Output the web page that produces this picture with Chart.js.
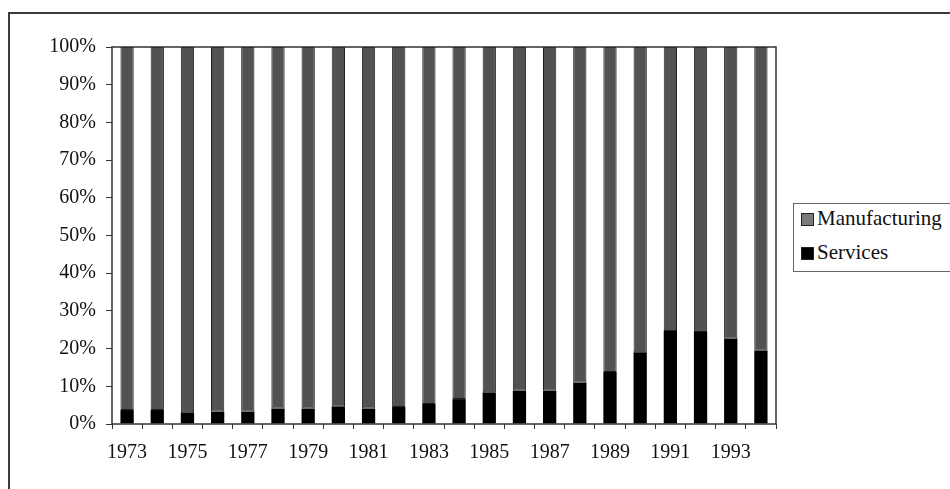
<!DOCTYPE html>
<html>
<head>
<meta charset="utf-8">
<script src="https://cdn.jsdelivr.net/npm/chart.js@4/dist/chart.umd.min.js"></script>
<style>
  html, body { margin: 0; padding: 0; background: #fff; overflow: hidden; }
  #wrap { position: relative; width: 950px; height: 489px; }
  #frame { position: absolute; left: 8px; top: 12px; width: 1000px; height: 600px; border: 2px solid #3a3a3a; box-sizing: border-box; }
  canvas { position: absolute; left: 0; top: 0; }
  #legend { position: absolute; left: 793px; top: 203px; width: 200px; height: 69px; border: 1px solid #666; box-sizing: border-box; background: #fff;
            font-family: "Liberation Serif", "Times New Roman", serif; font-size: 21px; color: #111; }
  .item { position: absolute; left: 7px; height: 24px; line-height: 24px; white-space: nowrap; }
  .sw { display: inline-block; width: 11px; height: 11px; border: 1px solid #222; margin-right: 3px; vertical-align: -1px; }
</style>
</head>
<body>
<div id="wrap">
  <div id="frame"></div>
  <canvas id="c" width="950" height="489"></canvas>
  <div id="legend"></div>
</div>
<script>
const years = ["1973","1974","1975","1976","1977","1978","1979","1980","1981","1982","1983",
               "1984","1985","1986","1987","1988","1989","1990","1991","1992","1993","1994"];
const services = [3.7,3.7,3.1,3.3,3.3,4.1,4.1,4.6,4.1,4.5,5.3,6.6,8.4,8.8,8.8,11.0,13.8,19.0,24.7,24.4,22.7,19.4];
const manufacturing = [96.3,96.3,96.9,96.7,96.7,95.9,95.9,95.4,95.9,95.5,94.7,93.4,91.6,91.2,91.2,89.0,86.2,81.0,75.3,75.6,77.3,80.6];
const seriesNames = ["Services", "Manufacturing"];
const seriesColors = ["#000000", "#525252"];
const legendSwatchColors = ["#000000", "#7a7a7a"];

const FONT = "'Liberation Serif', 'Times New Roman', serif";

const framePlugin = {
  id: 'frame',
  afterDraw(chart) {
    const a = chart.chartArea, ctx = chart.ctx;
    ctx.save();
    ctx.strokeStyle = '#333';
    ctx.lineWidth = 1.5;
    ctx.strokeRect(a.left, a.top, a.right - a.left, a.bottom - a.top);
    ctx.restore();
  }
};

new Chart(document.getElementById('c'), {
  type: 'bar',
  data: {
    labels: years,
    datasets: [
      { label: seriesNames[0], data: services, backgroundColor: seriesColors[0], borderColor: '#000', borderWidth: 0 },
      { label: seriesNames[1], data: manufacturing, backgroundColor: seriesColors[1], borderColor: '#1e1e1e', borderWidth: 1 }
    ]
  },
  options: {
    responsive: false,
    animation: false,
    devicePixelRatio: 1,
    layout: { padding: { top: 47, right: 174, left: 0, bottom: 0 } },
    datasets: { bar: { barPercentage: 0.44, categoryPercentage: 1.0, borderSkipped: false } },
    plugins: { legend: { display: false }, tooltip: { enabled: false } },
    scales: {
      x: {
        stacked: true,
        offset: true,
        border: { display: false },
        grid: { display: true, offset: true, drawOnChartArea: false, drawTicks: true, tickLength: 5, color: '#333', lineWidth: 1 },
        ticks: {
          autoSkip: false, maxRotation: 0, minRotation: 0, padding: 12,
          color: '#111', font: { family: FONT, size: 20 },
          callback: function(v, i) { return i % 2 === 0 ? years[i] : ''; }
        },
        afterFit(scale) { scale.height = 65; }
      },
      y: {
        stacked: true,
        min: 0, max: 100,
        border: { display: false },
        grid: { display: true, drawOnChartArea: false, drawTicks: true, tickLength: 6, color: '#333', lineWidth: 1 },
        ticks: {
          stepSize: 10, padding: 10,
          color: '#111', font: { family: FONT, size: 20 },
          callback: v => v + '%'
        },
        afterFit(scale) { scale.width = 112; }
      }
    }
  },
  plugins: [framePlugin]
});

// legend (Manufacturing first, Services second, as in the reference)
const leg = document.getElementById('legend');
const order = [1, 0];
order.forEach((di, k) => {
  const it = document.createElement('div');
  it.className = 'item';
  it.style.top = (2 + k * 34) + 'px';
  const sw = document.createElement('span');
  sw.className = 'sw';
  sw.style.background = legendSwatchColors[di];
  it.appendChild(sw);
  it.appendChild(document.createTextNode(seriesNames[di]));
  leg.appendChild(it);
});
</script>
</body>
</html>
